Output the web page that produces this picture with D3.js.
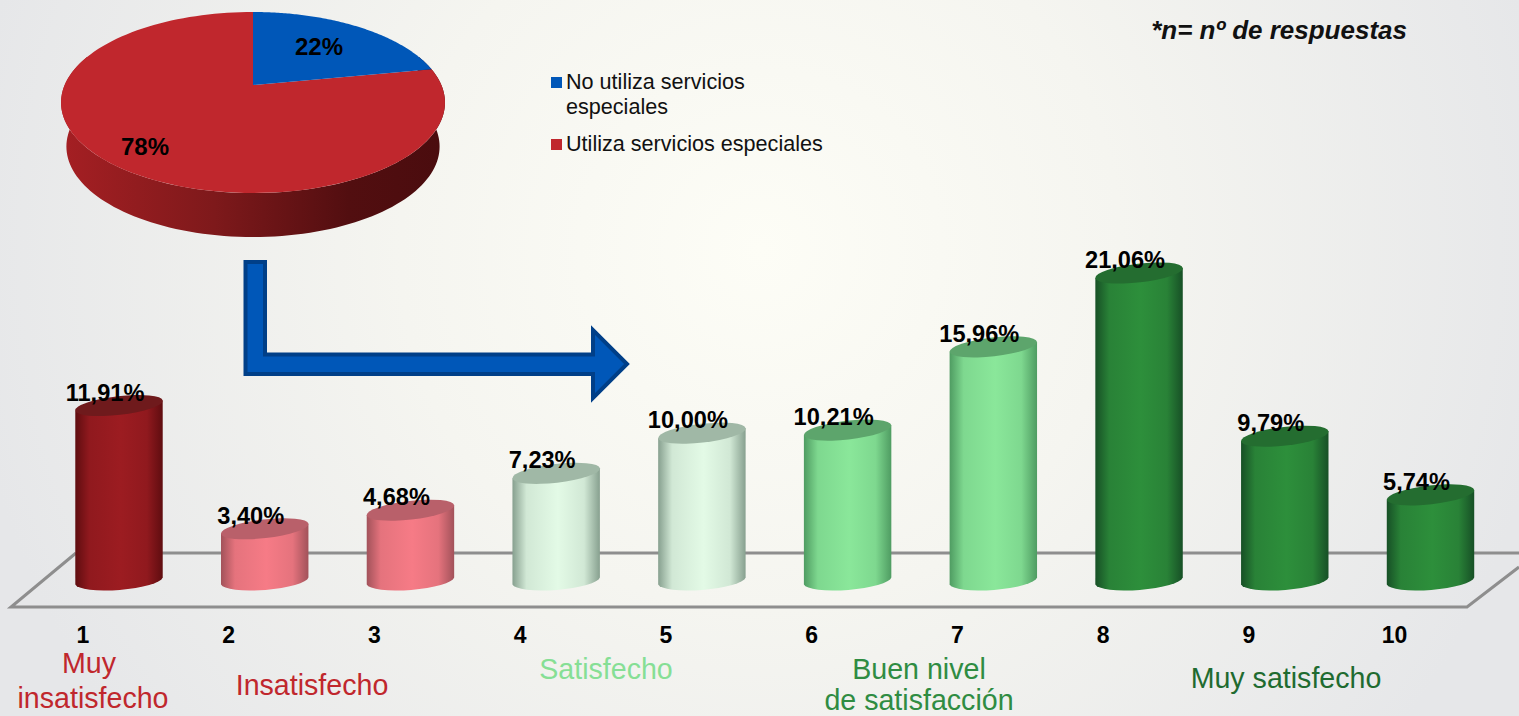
<!DOCTYPE html>
<html lang="es">
<head>
<meta charset="utf-8">
<script src="https://cdn.jsdelivr.net/npm/d3@7/dist/d3.min.js"></script>
<style>
html,body{margin:0;padding:0;background:#e8e9ea;overflow:hidden}
svg{display:block;font-family:"Liberation Sans",Arial,sans-serif}
</style>
</head>
<body>
<svg id="c" width="1519" height="716"></svg>
<script>
// ---- data ----
const barCategories = ["1","2","3","4","5","6","7","8","9","10"];
const barValues = [11.91,3.40,4.68,7.23,10.00,10.21,15.96,21.06,9.79,5.74];
const barLabels = ["11,91%","3,40%","4,68%","7,23%","10,00%","10,21%","15,96%","21,06%","9,79%","5,74%"];
const barTones = ["deep","rose","rose","pale","pale","mint","mint","forest","forest","forest"];
const pieNames = ["No utiliza servicios especiales","Utiliza servicios especiales"];
const pieValues = [22,78];
const pieLabels = ["22%","78%"];

// ---- styling ----
const tones = {
  deep:  {edge:"#5f0d10",mid:"#9c1c21",top:"#6f1a1c"},
  rose:  {edge:"#a2525a",mid:"#f67b86",top:"#b9606a"},
  pale:  {edge:"#87a08f",mid:"#e3fae6",top:"#a0b8a6"},
  mint:  {edge:"#4f9c62",mid:"#8ae79a",top:"#5da56c"},
  forest:{edge:"#175026",mid:"#2d8f3b",top:"#246d30"}
};
const pieColors = ["#0057b8","#c0272d"];

const svg = d3.select("#c");
const defs = svg.append("defs");

const bg = defs.append("radialGradient").attr("id","bg").attr("gradientUnits","userSpaceOnUse")
  .attr("cx",760).attr("cy",250).attr("r",800);
bg.append("stop").attr("offset",0).attr("stop-color","#fdfdf6");
bg.append("stop").attr("offset",0.45).attr("stop-color","#f5f5f0");
bg.append("stop").attr("offset",1).attr("stop-color","#e6e7e9");
svg.append("rect").attr("width",1519).attr("height",716).attr("fill","url(#bg)");

Object.entries(tones).forEach(([k,t])=>{
  const g = defs.append("linearGradient").attr("id","tone-"+k);
  [[0,t.edge],[.16,d3.interpolateRgb(t.edge,t.mid)(.8)],[.52,t.mid],[.82,d3.interpolateRgb(t.edge,t.mid)(.8)],[1,t.edge]]
    .forEach(([o,c])=>g.append("stop").attr("offset",o).attr("stop-color",c));
});
const wall = defs.append("linearGradient").attr("id","wall");
[[0,"#a51f23"],[.4,"#7e191b"],[.75,"#520e10"],[1,"#4a0c0e"]]
  .forEach(([o,c])=>wall.append("stop").attr("offset",o).attr("stop-color",c));

// ---- floor ----
const line = d3.line();
svg.append("path").attr("d",line([[76,553],[1519,553]]))
  .attr("fill","none").attr("stroke","#8e8e8e").attr("stroke-width",3);
svg.append("path").attr("d",line([[76,553],[11,607],[1467,607],[1519,567]]))
  .attr("fill","none").attr("stroke","#8e8e8e").attr("stroke-width",3).attr("stroke-linejoin","miter");

// ---- pie (perspective projection of a unit circle) ----
const pieCx=253, pieHalf=192, tilt=-35/181, gain=70.68, apexY=85, depth=44;
const proj=(t,sx=1,dy=0)=>{
  const u=Math.sin(t), v=-Math.cos(t), w=1+tilt*v;
  return [pieCx+pieHalf*sx*0.981*u/w,(gain*v+apexY)/w+dy];
};
const sample=(a,b,f)=>d3.range(0,121).map(i=>f(a+(b-a)*i/120));
const arcs=d3.pie().sort(null)(pieValues);
const A=Math.PI/180;
const wallPts=[...sample(70*A,290*A,t=>proj(t,0.972,depth)),...sample(290*A,70*A,t=>proj(t))];
svg.append("path").attr("d",line(wallPts)+"Z").attr("fill","url(#wall)");
arcs.slice().reverse().forEach(a=>{
  svg.append("path")
    .attr("d",line([[pieCx,apexY],...sample(a.startAngle,a.endAngle,t=>proj(t))])+"Z")
    .attr("fill",pieColors[a.index]);
});
const pieLabelPos=[[319,55],[145,155]];
pieLabels.forEach((s,i)=>svg.append("text").text(s)
  .attr("x",pieLabelPos[i][0]).attr("y",pieLabelPos[i][1]).attr("text-anchor","middle")
  .attr("font-size",24).attr("font-weight","bold").attr("fill","#000"));

// ---- legend ----
const legendRows=[{y:77,lines:["No utiliza servicios","especiales"]},{y:139,lines:["Utiliza servicios especiales"]}];
legendRows.forEach((r,i)=>{
  svg.append("rect").attr("x",551).attr("y",r.y).attr("width",11).attr("height",11).attr("fill",pieColors[i]);
  r.lines.forEach((s,j)=>svg.append("text").text(s).attr("x",566).attr("y",r.y+12+j*25)
    .attr("font-size",21.6).attr("fill","#111"));
});

svg.append("text").text("*n= nº de respuestas").attr("x",1407).attr("y",39).attr("text-anchor","end")
  .attr("font-size",26).attr("font-weight","bold").attr("font-style","italic").attr("fill","#111");

// ---- arrow ----
svg.append("path")
  .attr("d",line([[245.5,262],[265,262],[265,354.5],[593,354.5],[593,330],[627,364],[593,398],[593,374],[245.5,374]])+"Z")
  .attr("fill","#0057b8").attr("stroke","#003f88").attr("stroke-width",4);

// ---- cylinders ----
const x=d3.scalePoint().domain(barCategories).range([119,1430.5]);
const y=d3.scaleLinear().domain([0,21.06]).range([578,273]);
const rx=44, ry=9.4, rot=-6.5, dx=rx*Math.cos(rot*A), dy=-rx*Math.sin(rot*A);
const rotB=-4.5, ryB=9.8, dyB=-rx*Math.sin(rotB*A);
const bars=svg.selectAll("g.bar").data(barValues).join("g").attr("class","bar");
bars.append("path").attr("fill",(d,i)=>`url(#tone-${barTones[i]})`)
  .attr("d",(d,i)=>{
    const c=x(barCategories[i]), t=y(d), b=y(0)+3;
    return `M${c-dx},${t+dy}L${c-dx},${b+dyB}A${rx},${ryB} ${rotB} 0 0 ${c+dx},${b-dyB}L${c+dx},${t-dy}Z`;
  });
bars.append("ellipse").attr("rx",rx).attr("ry",ry).attr("fill",(d,i)=>tones[barTones[i]].top)
  .attr("transform",(d,i)=>`translate(${x(barCategories[i])},${y(d)}) rotate(${rot})`);
bars.append("text").text((d,i)=>barLabels[i])
  .attr("x",(d,i)=>x(barCategories[i])-14).attr("y",d=>y(d)-5).attr("text-anchor","middle")
  .attr("font-size",23.6).attr("font-weight","bold").attr("fill","#000");

// ---- category numbers ----
const axisG=svg.append("g").attr("transform","translate(-36,642.5)");
axisG.selectAll("text").data(barCategories).join("text").text(d=>d)
  .attr("x",d=>x(d)).attr("text-anchor","middle")
  .attr("font-size",23).attr("font-weight","bold").attr("fill","#000");

// ---- group captions ----
const captions=[
  {s:"Muy",x:89,y:673,c:"#c0272d"},
  {s:"insatisfecho",x:93,y:708,c:"#c0272d"},
  {s:"Insatisfecho",x:312,y:695,c:"#c0272d"},
  {s:"Satisfecho",x:606,y:679,c:"#86df95"},
  {s:"Buen nivel",x:919,y:679,c:"#2f8c42"},
  {s:"de satisfacción",x:919,y:710,c:"#2f8c42"},
  {s:"Muy satisfecho",x:1286,y:688,c:"#1f6b30"}
];
svg.selectAll("text.cap").data(captions).join("text").attr("class","cap").text(d=>d.s)
  .attr("x",d=>d.x).attr("y",d=>d.y).attr("text-anchor","middle")
  .attr("font-size",28.6).attr("fill",d=>d.c);
</script>
</body>
</html>
